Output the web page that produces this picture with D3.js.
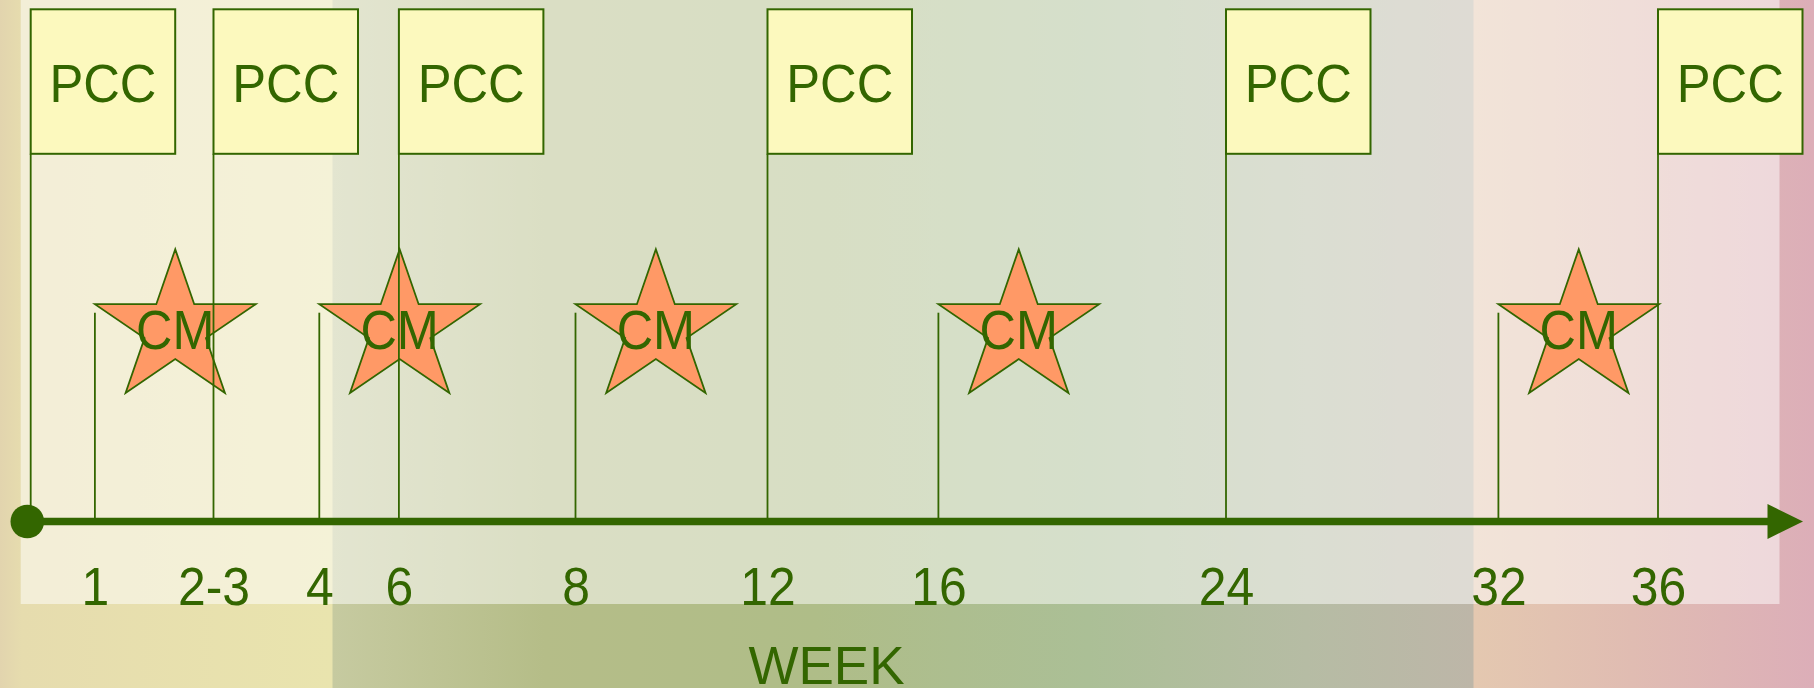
<!DOCTYPE html>
<html>
<head>
<meta charset="utf-8">
<script src="https://cdn.jsdelivr.net/npm/d3@7"></script>
<style>
  html, body { margin: 0; padding: 0; overflow: hidden; background: #fff; }
  svg { display: block; }
  text { font-family: "Liberation Sans", Arial, Helvetica, sans-serif; }
</style>
</head>
<body>
<svg id="timeline"></svg>
<script>
// Visit schedule
const weeks = [0, 1, 2.5, 4, 6, 8, 12, 16, 24, 32, 36];
const weekLabels = ["", "1", "2-3", "4", "6", "8", "12", "16", "24", "32", "36"];
const visitTypes = ["PCC", "CM", "PCC", "CM", "PCC", "CM", "PCC", "CM", "PCC", "CM", "PCC"];
const axisTitle = "WEEK";

const width = 1814, height = 688;
const green = "#336600";
const boxFill = "#fcf9be";
const starFill = "#ff9966";

// the timeline is schematic (not to scale), so the week scale is piecewise
const weekStops = [30.7, 94.9, 213.5, 319.3, 398.9, 575.5, 767.5, 938.4, 1226, 1498.4, 1658];
const x = d3.scaleLinear().domain(weeks).range(weekStops);

const axisY = 521.5,
    boxTop = 9.3,
    boxSize = 144.5,
    cmLineTop = 312.7,
    starTop = 249.3,
    starR = 84.5,
    starSy = 0.94,
    axisEnd = 1768,
    arrowTip = 1803;

const visits = weeks.map((w, i) => ({ week: w, label: weekLabels[i], type: visitTypes[i] }));

const svg = d3.select("#timeline")
    .attr("width", width)
    .attr("height", height);

// Background: three coloured bands with a pale wash over the top part
const defs = svg.append("defs");
const bg = defs.append("linearGradient").attr("id", "bands")
    .attr("x1", 0).attr("x2", 1).attr("y1", 0).attr("y2", 0);
[
    [0, "#e2d4ae"], [0.012, "#e6dcae"], [0.183, "#e9e4ae"],
    [0.1836, "#c6caa0"], [0.3, "#b5bd88"], [0.45, "#afbd88"],
    [0.6, "#abbf96"], [0.72, "#b6bca4"], [0.812, "#bdb6a8"],
    [0.8126, "#e4c8b0"], [0.9, "#e0bcb2"], [1, "#dcaeb8"]
].forEach(([o, c]) => bg.append("stop").attr("offset", o).attr("stop-color", c));

svg.append("rect")
    .attr("width", width).attr("height", height)
    .attr("fill", "url(#bands)");

svg.append("rect")
    .attr("x", 20.7).attr("y", 0)
    .attr("width", 1779.5 - 20.7).attr("height", 604)
    .attr("fill", "#ffffff")
    .attr("opacity", 0.5);

// Stars for CM visits: left arm tip sits on the visit line
const cmVisits = visits.filter(d => d.type === "CM");
const pccVisits = visits.filter(d => d.type === "PCC");

function starPoints(left) {
    const r = starR * 0.382;
    const cx = left + starR * Math.sin(2 * Math.PI / 5);
    const cy = starTop + starR * starSy;
    return d3.range(10).map(i => {
        const a = i * Math.PI / 5, rad = i % 2 ? r : starR;
        return [cx + rad * Math.sin(a), cy - rad * Math.cos(a) * starSy];
    });
}
const starLine = d3.line().curve(d3.curveLinearClosed);
const starCx = d => x(d.week) + starR * Math.sin(2 * Math.PI / 5);

svg.append("g").selectAll("path")
    .data(cmVisits)
    .enter().append("path")
    .attr("d", d => starLine(starPoints(x(d.week))))
    .attr("fill", starFill)
    .attr("stroke", green)
    .attr("stroke-width", 1.8)
    .attr("stroke-linejoin", "miter");

// Visit lines
svg.append("g").selectAll("line")
    .data(visits)
    .enter().append("line")
    .attr("x1", d => x(d.week))
    .attr("x2", d => x(d.week))
    .attr("y1", d => d.type === "PCC" ? boxTop + boxSize : cmLineTop)
    .attr("y2", axisY)
    .attr("stroke", green)
    .attr("stroke-width", 1.8);

// PCC boxes
const boxes = svg.append("g").selectAll("g")
    .data(pccVisits)
    .enter().append("g")
    .attr("transform", d => `translate(${x(d.week)},${boxTop})`);

boxes.append("rect")
    .attr("width", boxSize)
    .attr("height", boxSize)
    .attr("fill", boxFill)
    .attr("stroke", green)
    .attr("stroke-width", 2);

boxes.append("text")
    .attr("transform", `translate(${boxSize / 2},${101.5 - boxTop}) scale(0.93,1)`)
    .attr("text-anchor", "middle")
    .attr("fill", green)
    .style("font-size", "54.5px")
    .text(d => d.type);

// CM labels
svg.append("g").selectAll("text")
    .data(cmVisits)
    .enter().append("text")
    .attr("transform", d => `translate(${starCx(d)},349) scale(0.9,1)`)
    .attr("text-anchor", "middle")
    .attr("fill", green)
    .style("font-size", "56px")
    .text(d => d.type);

// Time axis: thick line, start dot and arrow head
svg.append("line")
    .attr("x1", x(0) - 3).attr("x2", axisEnd)
    .attr("y1", axisY).attr("y2", axisY)
    .attr("stroke", green)
    .attr("stroke-width", 7.5);

svg.append("circle")
    .attr("cx", x(0) - 3.4)
    .attr("cy", axisY)
    .attr("r", 16.8)
    .attr("fill", green);

svg.append("path")
    .attr("d", `M${axisEnd - 0.5},${axisY - 17.5}L${arrowTip},${axisY}L${axisEnd - 0.5},${axisY + 17.5}Z`)
    .attr("fill", green);

// Week tick labels
const axisG = svg.append("g")
    .attr("transform", `translate(0,${axisY})`)
    .call(d3.axisBottom(x)
        .tickValues(weeks.filter(w => w > 0))
        .tickFormat(w => weekLabels[weeks.indexOf(w)])
        .tickSize(0));

axisG.select(".domain").remove();
axisG.selectAll("text")
    .attr("y", 605.3 - axisY)
    .attr("dy", 0)
    .attr("transform", "scale(0.94,1)")
    .attr("fill", green)
    .style("font-size", "53px")
    .style("font-family", "'Liberation Sans', Arial, sans-serif");

// Axis title
svg.append("text")
    .attr("x", 826.5)
    .attr("y", 684)
    .attr("text-anchor", "middle")
    .attr("fill", green)
    .style("font-size", "53px")
    .text(axisTitle);
</script>
</body>
</html>
